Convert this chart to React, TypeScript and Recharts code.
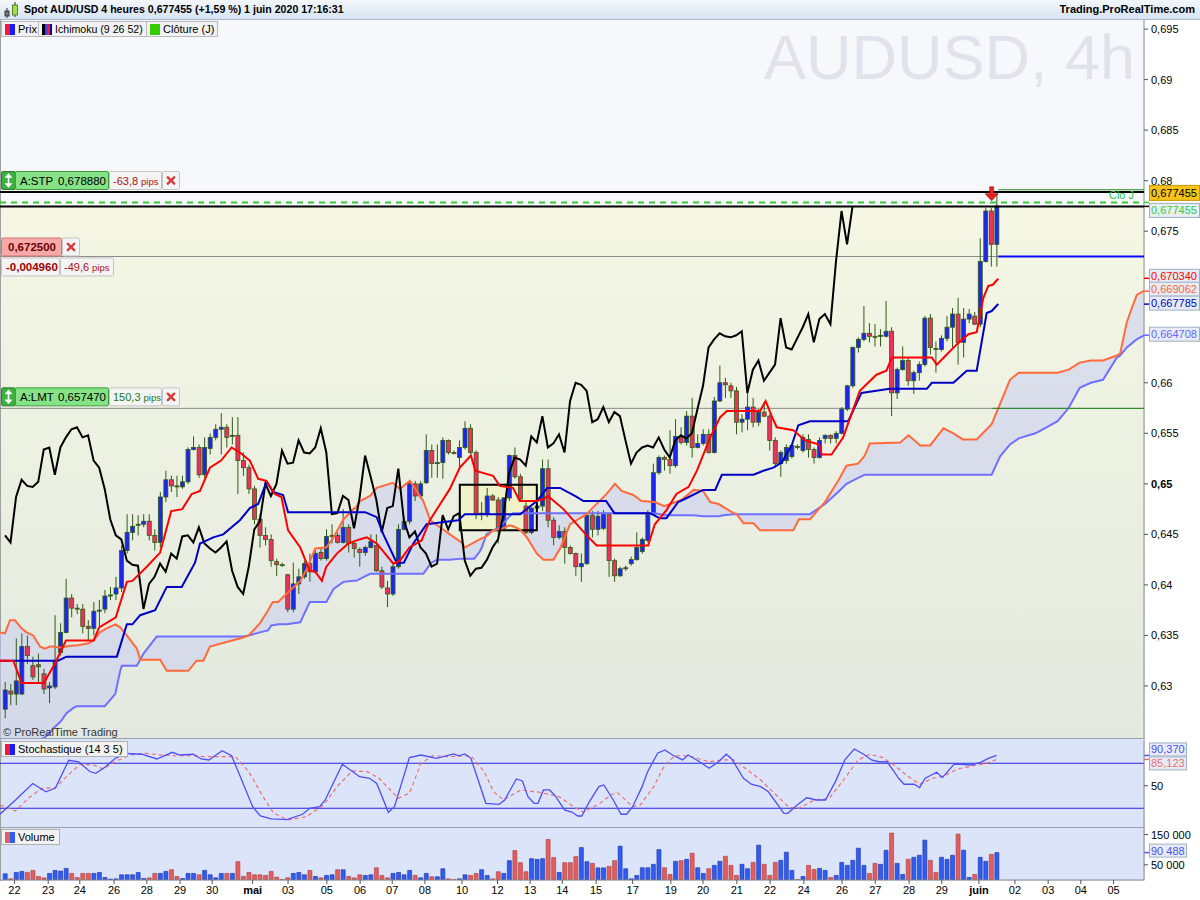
import React from 'react';
import {
  ComposedChart, Bar, Line, Area, XAxis, YAxis, ReferenceLine, ReferenceArea, ReferenceDot, Cell,
} from 'recharts';

const FONT = '"Liberation Sans", Arial, sans-serif';

// 4h candles, 22 avril -> 1 juin 2020 : [open, high, low, close]
const ohlc: [number, number, number, number][] = [
  [0.6277, 0.6304, 0.6268, 0.6296], [0.6295, 0.6302, 0.6281, 0.6292], [0.6292, 0.6347, 0.6281, 0.6305],
  [0.6292, 0.6352, 0.6291, 0.6339], [0.6339, 0.6350, 0.6322, 0.6330], [0.6320, 0.6329, 0.6306, 0.6309],
  [0.6321, 0.6332, 0.6302, 0.6319], [0.6312, 0.6317, 0.6292, 0.6297], [0.6298, 0.6304, 0.6283, 0.6300],
  [0.6299, 0.6370, 0.6297, 0.6324], [0.6333, 0.6362, 0.6330, 0.6353], [0.6353, 0.6406, 0.6352, 0.6387],
  [0.6387, 0.6391, 0.6368, 0.6377], [0.6377, 0.6381, 0.6371, 0.6376], [0.6376, 0.6381, 0.6352, 0.6359],
  [0.6359, 0.6365, 0.6345, 0.6357], [0.6357, 0.6383, 0.6350, 0.6374], [0.6374, 0.6385, 0.6358, 0.6375],
  [0.6376, 0.6395, 0.6372, 0.6389], [0.6389, 0.6398, 0.6385, 0.6390], [0.6391, 0.6408, 0.6385, 0.6397],
  [0.6397, 0.6439, 0.6393, 0.6434], [0.6434, 0.6470, 0.6431, 0.6452], [0.6452, 0.6470, 0.6444, 0.6458],
  [0.6459, 0.6469, 0.6449, 0.6460], [0.6460, 0.6470, 0.6457, 0.6463], [0.6463, 0.6470, 0.6444, 0.6449],
  [0.6449, 0.6455, 0.6434, 0.6442], [0.6442, 0.6492, 0.6437, 0.6487], [0.6487, 0.6513, 0.6482, 0.6504],
  [0.6504, 0.6508, 0.6492, 0.6498], [0.6498, 0.6508, 0.6487, 0.6497], [0.6497, 0.6508, 0.6495, 0.6502],
  [0.6502, 0.6536, 0.6500, 0.6534], [0.6534, 0.6547, 0.6533, 0.6536], [0.6536, 0.6539, 0.6506, 0.6509],
  [0.6509, 0.6546, 0.6506, 0.6536], [0.6535, 0.6550, 0.6529, 0.6546], [0.6546, 0.6559, 0.6543, 0.6554],
  [0.6554, 0.6570, 0.6529, 0.6556], [0.6556, 0.6559, 0.6536, 0.6546], [0.6547, 0.6566, 0.6539, 0.6548],
  [0.6548, 0.6566, 0.6490, 0.6523], [0.6523, 0.6531, 0.6508, 0.6516], [0.6516, 0.6519, 0.6490, 0.6495],
  [0.6495, 0.6498, 0.6460, 0.6465], [0.6465, 0.6470, 0.6437, 0.6449], [0.6449, 0.6457, 0.6439, 0.6445],
  [0.6445, 0.6450, 0.6418, 0.6424], [0.6423, 0.6426, 0.6409, 0.6420], [0.6420, 0.6422, 0.6418, 0.6419],
  [0.6410, 0.6411, 0.6373, 0.6376], [0.6376, 0.6422, 0.6373, 0.6401], [0.6401, 0.6416, 0.6391, 0.6408],
  [0.6408, 0.6424, 0.6406, 0.6421], [0.6421, 0.6431, 0.6403, 0.6413], [0.6413, 0.6434, 0.6411, 0.6431],
  [0.6432, 0.6437, 0.6424, 0.6426], [0.6426, 0.6455, 0.6424, 0.6448], [0.6448, 0.6460, 0.6441, 0.6449],
  [0.6449, 0.6452, 0.6441, 0.6442], [0.6442, 0.6475, 0.6441, 0.6457], [0.6457, 0.6460, 0.6432, 0.6441],
  [0.6441, 0.6442, 0.6427, 0.6436], [0.6435, 0.6437, 0.6418, 0.6432], [0.6432, 0.6439, 0.6429, 0.6437],
  [0.6437, 0.6450, 0.6436, 0.6443], [0.6439, 0.6450, 0.6413, 0.6414], [0.6414, 0.6418, 0.6396, 0.6398],
  [0.6397, 0.6404, 0.6378, 0.6391], [0.6391, 0.6421, 0.6389, 0.6418], [0.6418, 0.6460, 0.6416, 0.6455],
  [0.6455, 0.6467, 0.6454, 0.6463], [0.6463, 0.6503, 0.6460, 0.6500], [0.6500, 0.6503, 0.6483, 0.6488],
  [0.6488, 0.6503, 0.6485, 0.6500], [0.6501, 0.6549, 0.6500, 0.6533], [0.6533, 0.6539, 0.6506, 0.6520],
  [0.6520, 0.6539, 0.6506, 0.6521], [0.6521, 0.6546, 0.6505, 0.6543], [0.6543, 0.6544, 0.6529, 0.6531],
  [0.6531, 0.6533, 0.6529, 0.6530], [0.6526, 0.6543, 0.6516, 0.6536], [0.6536, 0.6562, 0.6534, 0.6555],
  [0.6555, 0.6559, 0.6529, 0.6531], [0.6531, 0.6533, 0.6465, 0.6470], [0.6470, 0.6482, 0.6464, 0.6471],
  [0.6470, 0.6496, 0.6467, 0.6488], [0.6488, 0.6490, 0.6483, 0.6484], [0.6484, 0.6487, 0.6441, 0.6456],
  [0.6456, 0.6487, 0.6455, 0.6486], [0.6486, 0.6529, 0.6483, 0.6528], [0.6528, 0.6536, 0.6505, 0.6507],
  [0.6507, 0.6510, 0.6483, 0.6485], [0.6478, 0.6483, 0.6450, 0.6452], [0.6452, 0.6477, 0.6450, 0.6476],
  [0.6476, 0.6480, 0.6473, 0.6478], [0.6478, 0.6524, 0.6473, 0.6515], [0.6515, 0.6524, 0.6457, 0.6464],
  [0.6464, 0.6467, 0.6439, 0.6447], [0.6447, 0.6459, 0.6445, 0.6453], [0.6453, 0.6457, 0.6421, 0.6437],
  [0.6437, 0.6439, 0.6430, 0.6431], [0.6431, 0.6432, 0.6409, 0.6418], [0.6418, 0.6431, 0.6403, 0.6421],
  [0.6421, 0.6470, 0.6420, 0.6469], [0.6469, 0.6473, 0.6447, 0.6455], [0.6455, 0.6473, 0.6449, 0.6468],
  [0.6456, 0.6474, 0.6454, 0.6471], [0.6470, 0.6472, 0.6408, 0.6424], [0.6424, 0.6426, 0.6403, 0.6409],
  [0.6409, 0.6418, 0.6408, 0.6416], [0.6416, 0.6419, 0.6414, 0.6417], [0.6421, 0.6428, 0.6419, 0.6425],
  [0.6425, 0.6452, 0.6424, 0.6437], [0.6433, 0.6447, 0.6431, 0.6445], [0.6444, 0.6474, 0.6442, 0.6470],
  [0.6470, 0.6520, 0.6469, 0.6511], [0.6511, 0.6528, 0.6509, 0.6526], [0.6526, 0.6528, 0.6513, 0.6524],
  [0.6524, 0.6553, 0.6510, 0.6518], [0.6518, 0.6564, 0.6516, 0.6547], [0.6546, 0.6556, 0.6539, 0.6541],
  [0.6541, 0.6572, 0.6538, 0.6567], [0.6567, 0.6585, 0.6526, 0.6536], [0.6536, 0.6549, 0.6535, 0.6540],
  [0.6540, 0.6554, 0.6538, 0.6549], [0.6549, 0.6554, 0.6530, 0.6531], [0.6531, 0.6586, 0.6530, 0.6582],
  [0.6582, 0.6617, 0.6581, 0.6600], [0.6600, 0.6605, 0.6585, 0.6598], [0.6597, 0.6600, 0.6585, 0.6592],
  [0.6592, 0.6596, 0.6549, 0.6561], [0.6561, 0.6569, 0.6551, 0.6564], [0.6564, 0.6590, 0.6553, 0.6576],
  [0.6576, 0.6585, 0.6556, 0.6561], [0.6561, 0.6574, 0.6557, 0.6571], [0.6571, 0.6581, 0.6566, 0.6567],
  [0.6567, 0.6569, 0.6533, 0.6543], [0.6543, 0.6546, 0.6516, 0.6520], [0.6520, 0.6533, 0.6507, 0.6531],
  [0.6523, 0.6539, 0.6520, 0.6536], [0.6527, 0.6539, 0.6525, 0.6538], [0.6537, 0.6539, 0.6534, 0.6536],
  [0.6533, 0.6549, 0.6531, 0.6546], [0.6544, 0.6549, 0.6526, 0.6534], [0.6534, 0.6536, 0.6520, 0.6526],
  [0.6526, 0.6546, 0.6525, 0.6543], [0.6545, 0.6549, 0.6540, 0.6548], [0.6548, 0.6549, 0.6540, 0.6545],
  [0.6545, 0.6552, 0.6540, 0.6550], [0.6550, 0.6576, 0.6549, 0.6574], [0.6574, 0.6598, 0.6572, 0.6597],
  [0.6597, 0.6636, 0.6595, 0.6635], [0.6635, 0.6645, 0.6630, 0.6643], [0.6643, 0.6676, 0.6641, 0.6649],
  [0.6649, 0.6659, 0.6640, 0.6646], [0.6646, 0.6658, 0.6636, 0.6645], [0.6646, 0.6653, 0.6636, 0.6647],
  [0.6646, 0.6681, 0.6645, 0.6651], [0.6651, 0.6655, 0.6567, 0.6590], [0.6590, 0.6615, 0.6584, 0.6613],
  [0.6613, 0.6636, 0.6612, 0.6622], [0.6622, 0.6625, 0.6597, 0.6602], [0.6602, 0.6612, 0.6589, 0.6610],
  [0.6610, 0.6621, 0.6602, 0.6618], [0.6618, 0.6666, 0.6616, 0.6664], [0.6664, 0.6668, 0.6628, 0.6635],
  [0.6634, 0.6641, 0.6610, 0.6633], [0.6633, 0.6647, 0.6631, 0.6644], [0.6644, 0.6666, 0.6641, 0.6655],
  [0.6655, 0.6674, 0.6635, 0.6668], [0.6668, 0.6684, 0.6618, 0.6640], [0.6640, 0.6674, 0.6625, 0.6663],
  [0.6663, 0.6673, 0.6659, 0.6668], [0.6666, 0.6670, 0.6657, 0.6658], [0.6658, 0.6743, 0.6655, 0.6720],
  [0.6720, 0.6773, 0.6719, 0.6770], [0.6770, 0.6773, 0.6715, 0.6737], [0.6737, 0.6789, 0.6715, 0.6775],
];

// volume per candle, thousands
const volumeK = [
  20.6, 3.9, 25, 28.3, 25, 31.7, 11.7, 7.2, 21.7, 31.7,
  29.4, 38.3, 21.7, 8.3, 21.7, 21.7, 21.7, 25, 8.3, 2.8,
  3.9, 17.2, 17.2, 17.2, 25, 5, 7.2, 21.7, 21.7, 28.3,
  33.9, 11.7, 5, 21.7, 21.7, 17.2, 31.7, 17.2, 7.2, 21.7,
  21.7, 21.7, 60.5, 11.7, 25, 17.2, 17.2, 15, 28.3, 9.4,
  1.7, 7.2, 21.7, 25, 17.2, 31.7, 11.7, 7.2, 15, 17.2,
  33.9, 33.9, 11.7, 7.2, 17.2, 15, 17.2, 40.5, 15, 7.2,
  21.7, 25, 17.2, 31.7, 15, 7.2, 21.7, 10.6, 10.6, 37.2,
  3.9, 1.7, 3.9, 17.2, 15, 21.7, 33.9, 15, 3.9, 27.2,
  21.7, 63.9, 97.2, 57.2, 27.2, 70.5, 68.3, 70.5, 133.9, 73.9,
  25, 57.2, 57.2, 77.2, 107.2, 60.5, 55, 40, 40, 45,
  63.9, 111.7, 37.2, 3.9, 15, 40.5, 40.5, 51.7, 100.5, 40.5,
  18.3, 61.7, 63.9, 68.3, 88.3, 40.5, 21.7, 37.2, 48.3, 61.7,
  78.3, 48.3, 15, 51.7, 37.2, 58.3, 115, 51.7, 15, 58.3,
  65, 91.7, 31.7, 1.7, 11.7, 48.3, 35, 38.3, 31.7, 8.3,
  15, 58.3, 48.3, 65, 105, 48.3, 21.7, 55, 51.7, 98.3,
  155, 55, 18.3, 68.3, 75, 81.7, 131.7, 65, 25, 75,
  68.3, 81.7, 151.7, 98.3, 8.3, 18.3, 75, 61.7, 85, 90.488,
];

// Ichimoku lines: [bar, price]
const tenkan: [number, number][] = [
  [-0.9, 0.6325], [1.5, 0.6325], [3, 0.6303], [7, 0.6303], [9, 0.6322], [11, 0.6345], [16, 0.6345],
  [17, 0.6358], [20, 0.6368], [22, 0.6403], [23, 0.6404], [25.6, 0.6418], [28, 0.6432], [30, 0.6473],
  [32, 0.6475], [33.7, 0.6490], [35.2, 0.6493], [37, 0.6516], [39, 0.6523], [40.9, 0.6536], [42.4, 0.6531],
  [44.2, 0.6523], [45.7, 0.6505], [47.2, 0.6503], [48.7, 0.6490], [49.9, 0.6487], [51.1, 0.6454],
  [53.3, 0.6437], [55, 0.6414], [56, 0.6413], [57.2, 0.6404], [58, 0.6418], [59.9, 0.6431], [62, 0.6441],
  [64, 0.6445], [65.3, 0.6447], [67.1, 0.6441], [68.9, 0.6429], [70.1, 0.6421], [71.3, 0.6424],
  [73, 0.6437], [75.2, 0.6444], [76.7, 0.6464], [80.3, 0.6495], [82.1, 0.6516], [84.1, 0.6528],
  [84.9, 0.6513], [88.1, 0.6508], [89.3, 0.6498], [91.7, 0.6496], [92.9, 0.6483], [96, 0.6483],
  [97.2, 0.6485], [98, 0.6488], [100.8, 0.6475], [105, 0.6449], [106.8, 0.6439], [116.1, 0.6439],
  [117.3, 0.6460], [119.4, 0.6474], [121.2, 0.6490], [123.4, 0.6497], [124.9, 0.6513], [127.3, 0.6546],
  [129.1, 0.6566], [130.3, 0.6572], [136.3, 0.6572], [137.3, 0.6582], [138.4, 0.6567], [139.3, 0.6556],
  [142.3, 0.6553], [144.4, 0.6543], [147, 0.6539], [147.4, 0.6529], [149.2, 0.6529], [151.3, 0.6546],
  [154.3, 0.6592], [157.3, 0.6608], [159.1, 0.6612], [160.1, 0.6625], [167.3, 0.6625], [168.2, 0.6618],
  [170, 0.6628], [171.8, 0.6638], [173.9, 0.6648], [175.4, 0.6650], [176.6, 0.6684], [177.5, 0.6696],
  [178.3, 0.6697], [179.3, 0.6703],
];

const kijun: [number, number][] = [
  [-0.9, 0.6325], [9.6, 0.6325], [11.1, 0.6329], [20.2, 0.6329], [22, 0.6361], [23, 0.6361],
  [24.4, 0.6370], [27.1, 0.6375], [29.2, 0.6398], [31.9, 0.6398], [34.3, 0.6422], [35.2, 0.6441],
  [37.6, 0.6447], [39.4, 0.6450], [42.4, 0.6464], [44.2, 0.6476], [45.7, 0.6480], [47.2, 0.6502],
  [48.4, 0.6492], [50.2, 0.6489], [51.1, 0.6472], [65, 0.6472], [67.1, 0.6467], [68.3, 0.6450],
  [70.7, 0.6422], [72, 0.6422], [73.7, 0.6441], [76.1, 0.6460], [81.8, 0.6464], [83, 0.6470],
  [93, 0.6470], [96, 0.6483], [97.9, 0.6496], [100.2, 0.6496], [103.2, 0.6487], [104.4, 0.6483],
  [108.5, 0.6483], [110, 0.6471], [116.4, 0.6471], [118.2, 0.6466], [119.4, 0.6466], [121.5, 0.6482],
  [122.7, 0.6485], [126, 0.6494], [128.2, 0.6494], [129.4, 0.6509], [135.1, 0.6509], [136.9, 0.6513],
  [138.7, 0.6516], [140.2, 0.6521], [142, 0.6538], [143.2, 0.6558], [145.3, 0.6562], [152.2, 0.6562],
  [154.6, 0.6590], [159.7, 0.6594], [166.4, 0.6594], [167.3, 0.6600], [171.2, 0.6600], [173.6, 0.6612],
  [175.4, 0.6612], [177.2, 0.6669], [178.1, 0.6671], [179.3, 0.6678],
];

// kumo, shifted 26 bars ahead: [bar, senkou A, senkou B]
const kumo: [number, number, number][] = [
  [-0.9, 0.6353, 0.6235], [0, 0.6352, 0.6236], [0.9, 0.6365, 0.6237], [1.8, 0.6365, 0.6238],
  [3, 0.6357, 0.6240], [3.9, 0.6353, 0.6242], [5.1, 0.6350, 0.6245], [6.3, 0.6339, 0.6247],
  [7.2, 0.6337, 0.6249], [8.1, 0.6339, 0.6254], [8.7, 0.6339, 0.6258], [9.9, 0.6338, 0.6264],
  [10.2, 0.6338, 0.6266], [11.1, 0.6339, 0.6273], [12.3, 0.6340, 0.6278], [12.9, 0.6340, 0.6280],
  [15, 0.6342, 0.6280], [16, 0.6345, 0.6280], [17.1, 0.6353, 0.6280], [18, 0.6356, 0.6280],
  [19.9, 0.6361, 0.6292], [20.8, 0.6358, 0.6315], [21.1, 0.6356, 0.6320], [21.7, 0.6352, 0.6320],
  [23.8, 0.6337, 0.6320], [24.4, 0.6326, 0.6326], [25, 0.6326, 0.6332], [27.4, 0.6326, 0.6349],
  [28, 0.6326, 0.6349], [29.2, 0.6315, 0.6349], [33.1, 0.6315, 0.6349], [34.6, 0.6325, 0.6349],
  [35.8, 0.6325, 0.6349], [37, 0.6339, 0.6349], [41, 0.6345, 0.6349], [43, 0.6348, 0.6349],
  [44, 0.6350, 0.6350], [46, 0.6362, 0.6353], [47.5, 0.6375, 0.6355], [48.1, 0.6381, 0.6360],
  [48.4, 0.6383, 0.6360], [49.3, 0.6383, 0.6361], [50.8, 0.6391, 0.6361], [53.3, 0.6404, 0.6363],
  [54.5, 0.6416, 0.6377], [55, 0.6423, 0.6383], [56, 0.6436, 0.6383], [58, 0.6437, 0.6383],
  [59.3, 0.6447, 0.6396], [61.1, 0.6465, 0.6403], [62.9, 0.6475, 0.6404], [63.4, 0.6477, 0.6404],
  [64.1, 0.6483, 0.6406], [65.9, 0.6488, 0.6411], [67.1, 0.6496, 0.6411], [70, 0.6501, 0.6411],
  [71.3, 0.6495, 0.6411], [73.1, 0.6503, 0.6411], [74.3, 0.6493, 0.6411], [75.5, 0.6483, 0.6411],
  [76.7, 0.6465, 0.6420], [77, 0.6463, 0.6422], [78, 0.6459, 0.6425], [80.3, 0.6450, 0.6425],
  [82.4, 0.6442, 0.6426], [83, 0.6437, 0.6426], [84.7, 0.6442, 0.6426], [85.7, 0.6445, 0.6433],
  [86, 0.6446, 0.6436], [86.9, 0.6448, 0.6450], [88.1, 0.6454, 0.6454], [89.3, 0.6455, 0.6457],
  [91.1, 0.6459, 0.6468], [91.7, 0.6458, 0.6471], [92.9, 0.6455, 0.6471], [94.2, 0.6447, 0.6471],
  [96, 0.6431, 0.6471], [97.2, 0.6425, 0.6471], [99, 0.6425, 0.6471], [100.2, 0.6436, 0.6471],
  [102, 0.6460, 0.6471], [105, 0.6470, 0.6471], [106.2, 0.6477, 0.6471], [107.7, 0.6485, 0.6471],
  [108.6, 0.6490, 0.6471], [110.1, 0.6500, 0.6471], [111.3, 0.6493, 0.6471], [113.4, 0.6489, 0.6471],
  [114.9, 0.6483, 0.6471], [117.3, 0.6482, 0.6471], [119, 0.6478, 0.6469], [122.1, 0.6484, 0.6469],
  [124.3, 0.6494, 0.6469], [126, 0.6493, 0.6468], [127.3, 0.6482, 0.6468], [128.8, 0.6480, 0.6468],
  [129.7, 0.6477, 0.6469], [131.5, 0.6471, 0.6470], [132.1, 0.6470, 0.6470], [133.3, 0.6461, 0.6470],
  [135.1, 0.6461, 0.6470], [136.3, 0.6454, 0.6470], [142.3, 0.6454, 0.6470], [143.3, 0.6465, 0.6470],
  [145.3, 0.6465, 0.6470], [148, 0.6482, 0.6480], [150.4, 0.6503, 0.6492], [151.9, 0.6518, 0.6500],
  [154, 0.6520, 0.6506], [155.2, 0.6528, 0.6509], [156.1, 0.6540, 0.6509], [161.6, 0.6541, 0.6509],
  [163.1, 0.6548, 0.6509], [165.2, 0.6538, 0.6509], [167, 0.6538, 0.6509], [169.4, 0.6555, 0.6509],
  [171.2, 0.6550, 0.6509], [172.9, 0.6544, 0.6509], [175.4, 0.6544, 0.6509], [178.1, 0.6559, 0.6509],
  [179.6, 0.6579, 0.6527], [181.4, 0.6603, 0.6539], [183, 0.6610, 0.6545], [186, 0.6610, 0.6550],
  [188, 0.6610, 0.6556], [190, 0.6610, 0.6562], [192, 0.6613, 0.6575], [194, 0.6620, 0.6595],
  [196, 0.6622, 0.6600], [198.2, 0.6622, 0.6603], [200.7, 0.6627, 0.6625], [201.3, 0.6629, 0.6627],
  [202.5, 0.6660, 0.6635], [203.4, 0.6674, 0.6639], [204.3, 0.6687, 0.6643], [205.6, 0.6691, 0.6647],
];

// stochastique (14 3 5): [bar, value]
const stochK: [number, number][] = [
  [-0.9, 12], [1.9, 31], [5, 53], [7.4, 42], [9.1, 47], [11.5, 84], [13.3, 82], [15.3, 69], [16.4, 66.6],
  [18.1, 75], [19.8, 86], [21.9, 93], [24.7, 92], [27.4, 85.7], [30.2, 94.6], [31.6, 91], [34, 92],
  [35.4, 85.7], [36.8, 84.4], [39.2, 96.8], [40.9, 90], [42.6, 60], [44.7, 22], [46.1, 9.7], [48.1, 5.7],
  [50.9, 4.8], [53.7, 12], [55, 20], [56.8, 22], [57.8, 31], [60.9, 78.6], [64, 62], [65.8, 60], [67.1, 53],
  [69.2, 14.6], [70.3, 22], [73, 87.5], [75.1, 91], [77.9, 86.6], [81, 92.4], [81.9, 90], [83, 92.4],
  [84.1, 86.6], [86.8, 26.6], [89.2, 25.3], [90.2, 31], [92.3, 59], [93.4, 56.4], [94.4, 35.5],
  [95.5, 26.6], [96.2, 26.6], [97.2, 44.4], [98.3, 44.4], [99.3, 36.8], [101, 17.7], [102.4, 14.6],
  [103.4, 9.7], [104.1, 9.7], [105.5, 28.8], [107.2, 48.8], [108.1, 51], [109.8, 31], [111.2, 12],
  [112.2, 12], [113.3, 22], [115, 48.8], [116, 68.8], [117.8, 93.3], [119.1, 97.7], [120.5, 91],
  [122.3, 84.4], [123.3, 91], [125.4, 82], [127.1, 73.3], [128.8, 82], [130.2, 92], [131.2, 85.7],
  [133.3, 60], [134.7, 52], [136.4, 48.8], [137.8, 42], [140.6, 13.3], [141.3, 13.3], [143, 24.4],
  [144.7, 34], [145.4, 33], [146.4, 31], [148.1, 31], [149.9, 55.5], [151.6, 84.4], [153.3, 99], [155, 92],
  [156.4, 84.4], [157.7, 82], [159.2, 82], [160.3, 71], [161.3, 60], [162.3, 52], [164.1, 52],
  [165.1, 47.5], [166.1, 60], [168.2, 68], [169.2, 60.8], [171.3, 78.6], [172.6, 78.6], [174.4, 77.7],
  [176.1, 81.3], [177.5, 86.6], [179, 90.37],
];

const stochD: [number, number][] = [
  [-0.9, 24.4], [1.9, 16.4], [4.3, 34], [6.7, 46.6], [9.1, 47.5], [11.5, 65], [13.6, 78.6], [16, 77.7],
  [17.7, 72.4], [19.8, 82], [22.6, 91], [25.3, 93.3], [28.1, 91], [30.9, 90], [33.6, 90], [36.4, 88.8],
  [38.8, 88.8], [41.6, 88.8], [44, 68.8], [46.4, 37.7], [48.5, 13.3], [51.2, 4.4], [54.4, 8.8],
  [57.5, 24.4], [60.2, 51], [62.7, 69.7], [65.4, 68.8], [67.5, 60], [71, 33.3], [73, 40], [75.1, 80],
  [77.2, 90], [79.9, 88.8], [84.1, 90], [86.5, 68.8], [88.2, 42], [90, 31], [93.1, 44.4], [96.5, 41.3],
  [100, 35.5], [102.7, 22], [104.4, 14.6], [107.4, 26.6], [109.4, 37.7], [110.5, 41.3], [113.3, 22],
  [114.7, 24.4], [117.1, 48.8], [119.1, 77.7], [120.9, 90], [123.3, 90], [125.4, 85.7], [127.1, 82],
  [129.5, 84.4], [131.6, 84.4], [133.6, 73.3], [136.4, 57.7], [139.2, 37.7], [141.6, 20.8], [143.3, 20],
  [146.1, 31], [148.8, 33.3], [151.6, 60], [154, 84.4], [156.1, 92], [158.5, 87.5], [160.6, 76.8],
  [162.7, 64.4], [165.1, 52], [167.5, 60], [169.6, 63.5], [172, 72.4], [174.8, 76.8], [177.2, 80],
  [179, 85.123],
];

const dayTicks = [
  1.7, 7.8, 13.5, 19.7, 25.6, 31.6, 37.4, 44.7, 51.1, 58.1, 64.1, 69.9, 75.8, 82.5, 88.9, 94.8, 100.6,
  106.7, 113.3, 120.2, 126, 132.1, 138.1, 144.2, 151.1, 157.1, 163.2, 169.1, 175.8, 182.3, 188.3, 194.2, 200.1,
];
const dayLabels = [
  '22', '23', '24', '26', '28', '29', '30', 'mai', '03', '05', '06', '07', '08', '10', '12', '13', '14',
  '15', '17', '19', '20', '21', '22', '24', '26', '27', '28', '29', 'juin', '02', '03', '04', '05',
];
// 0,665 and 0,67 sit under the indicator value tags, so they are not shown
const priceTicks = [0.63, 0.635, 0.64, 0.645, 0.65, 0.655, 0.66, 0.675, 0.68, 0.685, 0.69, 0.695];

const X_DOMAIN: [number, number] = [-0.9, 205.6];
const PRICE_DOMAIN: [number, number] = [0.62485, 0.6959];

// ---- tables ----
const candleRows = ohlc.map(([o, h, l, c], i) => ({ x: i, o, h, l, c, range: [l, h] }));
const volumeRows = ohlc.map(([o, , , c], i) => ({ x: i, v: volumeK[i], up: c >= o }));
const cloudRows = kumo.map(([x, a, b]) => ({ x, cloud: [a, b] }));

function mergeSeries(series: Record<string, [number, number][]>) {
  const rows = new Map<number, any>();
  for (const [key, pts] of Object.entries(series)) {
    for (const [x, v] of pts) {
      const k = Math.round(x * 100) / 100;
      const row = rows.get(k) ?? { x: k };
      row[key] = v;
      rows.set(k, row);
    }
  }
  return [...rows.values()].sort((a, b) => a.x - b.x);
}

const lineRows = mergeSeries({
  tenkan,
  kijun,
  chikou: ohlc.slice(26).map(([, , , c], i) => [i, c] as [number, number]),
  spanA: kumo.map(([x, a]) => [x, a] as [number, number]),
  spanB: kumo.map(([x, , b]) => [x, b] as [number, number]),
});
const stochRows = mergeSeries({ k: stochK, d: stochD });

// ---- drawing helpers ----
function Candle(props: any) {
  const { x, y, width, height, payload } = props;
  if (!payload || y == null || height == null) return null;
  const { o, h, l, c } = payload;
  const top = Math.min(y, y + height);
  const span = Math.abs(height);
  const cx = x + width / 2;
  const py = (v: number) => top + ((h - v) / (h - l)) * span;
  const b1 = py(Math.max(o, c));
  const b2 = py(Math.min(o, c));
  const up = c >= o;
  return (
    <g>
      <line x1={cx} x2={cx} y1={top} y2={top + span} stroke="#2f5c14" strokeWidth={1} />
      <rect x={cx - 2} y={b1} width={4} height={Math.max(b2 - b1, 1)}
        fill={up ? '#1d25f2' : '#f0305c'} stroke="#2f5c14" strokeWidth={0.8} />
    </g>
  );
}

const priceLabel = (v: number) => String(Number(v.toFixed(3))).replace('.', ',');

function PriceTick(props: any) {
  const { x, y, payload } = props;
  const v = payload.value;
  return (
    <text x={x} y={y} dy={4} fontSize={11} fontFamily={FONT} fill="#000"
      fontWeight={Math.abs(v - 0.65) < 1e-9 ? 700 : 400}>{priceLabel(v)}</text>
  );
}

function PlainTick(props: any) {
  const { x, y, payload, fmt } = props;
  return <text x={x} y={y} dy={4} fontSize={11} fontFamily={FONT} fill="#000">{fmt(payload.value)}</text>;
}

function DayTick(props: any) {
  const { x, y, payload } = props;
  const label = dayLabels[dayTicks.indexOf(payload.value)] ?? '';
  const bold = label === 'mai' || label === 'juin';
  return (
    <text x={x} y={y} dy={8} textAnchor="middle" fontSize={11} fontFamily={FONT}
      fontWeight={bold ? 700 : 400} fill="#000">{label}</text>
  );
}

type TagOpts = { text: string; color: string; bg: string; border: string; dy?: number; h?: number; w?: number };
const rightTag = ({ text, color, bg, border, dy = 0, h = 14, w = 50 }: TagOpts) => (props: any) => {
  const vb = props.viewBox ?? {};
  const x0 = (vb.x ?? 0) + (vb.width ?? 0);
  const y0 = vb.y ?? 0;
  const cy = y0 + dy;
  return (
    <g>
      <line x1={x0} x2={x0 + 5} y1={y0} y2={y0} stroke={color} strokeWidth={1.5} />
      <rect x={x0 + 5.5} y={cy - h / 2} width={w} height={h} fill={bg} stroke={border} />
      <text x={x0 + 7} y={cy + 4} fontSize={11} fontFamily={FONT} fill={color}>{text}</text>
    </g>
  );
};

function Box({ x, y, w, h, bg, border }: any) {
  return <rect x={x + 0.5} y={y + 0.5} width={w - 1} height={h - 1} rx={1.5} fill={bg} stroke={border} />;
}
function Cross({ cx, cy }: any) {
  return (
    <g stroke="#d83a3a" strokeWidth={2.4} strokeLinecap="round">
      <line x1={cx - 3.2} y1={cy - 3.2} x2={cx + 3.2} y2={cy + 3.2} />
      <line x1={cx + 3.2} y1={cy - 3.2} x2={cx - 3.2} y2={cy + 3.2} />
    </g>
  );
}
function Arrows({ cx, cy }: any) {
  return (
    <g fill="#fff" stroke="#fff">
      <line x1={cx} x2={cx} y1={cy - 5} y2={cy + 5} strokeWidth={1.6} />
      <path d={`M${cx - 3.5} ${cy - 3} L${cx} ${cy - 7} L${cx + 3.5} ${cy - 3} Z`} strokeWidth={0.5} />
      <path d={`M${cx - 3.5} ${cy + 3} L${cx} ${cy + 7} L${cx + 3.5} ${cy + 3} Z`} strokeWidth={0.5} />
    </g>
  );
}

const orderTag = (name: string, price: string, pips: string, pipsColor: string) => (props: any) => {
  const vb = props.viewBox ?? {};
  const t = (vb.y ?? 0) - 21;
  return (
    <g fontFamily={FONT}>
      <Box x={1} y={t} w={15} h={19} bg="#3fb03f" border="#2b7d2b" />
      <Arrows cx={8.5} cy={t + 9.5} />
      <Box x={15} y={t} w={94} h={19} bg="#86e286" border="#3d9b3d" />
      <text x={20} y={t + 14} fontSize={11.5} fill="#000">{name}</text>
      <text x={58} y={t + 14} fontSize={11.5} fill="#000">{price}</text>
      <Box x={109} y={t} w={53} h={19} bg="#f4f4f4" border="#c4c4c4" />
      <text x={113} y={t + 14} fontSize={11} fill={pipsColor}>{pips}<tspan fontSize={9.5} dx={3}>pips</tspan></text>
      <Box x={162} y={t} w={18} h={19} bg="#f4f4f4" border="#c4c4c4" />
      <Cross cx={171} cy={t + 9.5} />
    </g>
  );
};

const pendingTag = (props: any) => {
  const vb = props.viewBox ?? {};
  const y0 = vb.y ?? 0;
  const t = y0 - 19;
  return (
    <g fontFamily={FONT}>
      <Box x={1} y={t} w={61} h={19} bg="#f6a9a9" border="#cf7777" />
      <text x={8} y={t + 14} fontSize={11.5} fontWeight={700} fill="#6e0000">0,672500</text>
      <Box x={62} y={t} w={18} h={19} bg="#f4f4f4" border="#c4c4c4" />
      <Cross cx={71} cy={t + 9.5} />
      <Box x={1} y={y0 + 1} w={59} h={19} bg="#f4f4f4" border="#c4c4c4" />
      <text x={6} y={y0 + 15} fontSize={11.5} fontWeight={700} fill="#a00000">-0,004960</text>
      <Box x={60} y={y0 + 1} w={54} h={19} bg="#f4f4f4" border="#c4c4c4" />
      <text x={64} y={y0 + 15} fontSize={11} fill="#b01010">-49,6<tspan fontSize={9.5} dx={3}>pips</tspan></text>
    </g>
  );
};

const cloJ = (props: any) => {
  const vb = props.viewBox ?? {};
  const x0 = (vb.x ?? 0) + (vb.width ?? 0);
  const y0 = vb.y ?? 0;
  return (
    <g>
      <text x={x0 - 10} y={y0 - 3} textAnchor="end" fontSize={11} fontFamily={FONT} fill="#38c238">Clo J</text>
      <line x1={x0} x2={x0 + 5} y1={y0} y2={y0} stroke="#33cc33" strokeWidth={1.5} />
      <rect x={x0 + 5.5} y={y0 + 1} width={50} height={14} fill="#e9eef5" stroke="#9fb0c2" />
      <text x={x0 + 7} y={y0 + 12} fontSize={11} fontFamily={FONT} fill="#33cc33">0,677455</text>
    </g>
  );
};

const sellArrow = (p: any) => (
  <path d={`M${p.cx - 2} ${p.cy - 8} h4 v7 h4.5 l-6.5 7 l-6.5 -7 h4.5 z`} fill="#e8231e" stroke="#a01010" strokeWidth={0.6} />
);

const layer = (top: number): React.CSSProperties => ({ position: 'absolute', left: 0, top });
const noMargin = { top: 0, right: 0, bottom: 0, left: 0 };
const hiddenRight = { top: 0, right: 56, bottom: 0, left: 0 };

function LegendBox({ left, width, children }: any) {
  return (
    <div style={{
      position: 'absolute', left, top: 21, width, height: 16, boxSizing: 'border-box', whiteSpace: 'nowrap',
      background: '#f2f2f2', border: '1px solid #b9b9b9', display: 'flex', alignItems: 'center',
      gap: 3, paddingLeft: 3, fontSize: 11, color: '#000', overflow: 'hidden',
    }}>{children}</div>
  );
}

const priceIcon = (
  <span style={{ display: 'inline-flex', width: 10, height: 11, flex: 'none' }}>
    <span style={{ flex: 1, background: '#f2183c' }} /><span style={{ flex: 1, background: '#1a1af5' }} />
  </span>
);

export default function App() {
  const MAIN_H = 718;
  return (
    <div style={{ position: 'absolute', left: 0, top: 0, width: 1200, height: 900, background: '#fff', overflow: 'hidden', fontFamily: FONT }}>
      {/* panel backgrounds */}
      <div style={{ position: 'absolute', left: 0, top: 20, width: 1144, height: 187, background: '#f7f8fc', borderLeft: '1px solid #a0a0a0' }} />
      <div style={{ position: 'absolute', left: 0, top: 207, width: 1144, height: 531, background: 'linear-gradient(#f5f7e4, #e3e9df)', borderLeft: '1px solid #a0a0a0' }} />
      <div style={{ position: 'absolute', left: 700, top: 26, width: 435, textAlign: 'right', fontSize: 63, lineHeight: 1, color: '#e1e3ec' }}>AUDUSD, 4h</div>
      <div style={{ position: 'absolute', left: 0, top: 738, width: 1144, height: 90, background: '#dce4fa', borderTop: '1px solid #9aa3ad', borderLeft: '1px solid #a0a0a0' }} />
      <div style={{ position: 'absolute', left: 0, top: 827, width: 1144, height: 53, background: '#dce4fa', borderTop: '1px solid #9aa3ad', borderLeft: '1px solid #a0a0a0' }} />

      {/* kumo + price axis */}
      <div style={layer(20)}>
        <ComposedChart width={1200} height={MAIN_H} data={cloudRows} margin={noMargin}>
          <XAxis type="number" dataKey="x" domain={X_DOMAIN} allowDataOverflow hide />
          <YAxis orientation="right" width={56} domain={PRICE_DOMAIN} allowDataOverflow ticks={priceTicks}
            interval={0} tickSize={4} tickMargin={3} tick={(p: any) => <PriceTick {...p} />}
            axisLine={{ stroke: '#8c8c8c' }} tickLine={{ stroke: '#555' }} />
          <ReferenceLine y={0.6725} stroke="#8a8a8a" />
          <ReferenceLine y={0.65747} stroke="#8a8a8a" />
          <Area dataKey="cloud" stroke="none" fill="#c6caf4" fillOpacity={0.5} connectNulls isAnimationActive={false} />
        </ComposedChart>
      </div>

      {/* drawn rectangle */}
      <div style={layer(20)}>
        <ComposedChart width={1200} height={MAIN_H} data={candleRows} margin={hiddenRight}>
          <XAxis type="number" dataKey="x" domain={X_DOMAIN} allowDataOverflow hide />
          <YAxis domain={PRICE_DOMAIN} allowDataOverflow hide />
          <ReferenceArea x1={82.1} x2={96} y1={0.6454} y2={0.6499} fill="#f1f3c6" fillOpacity={0.9} stroke="none" />
        </ComposedChart>
      </div>

      {/* candles */}
      <div style={layer(20)}>
        <ComposedChart width={1200} height={MAIN_H} data={candleRows} margin={hiddenRight}>
          <XAxis type="number" dataKey="x" domain={X_DOMAIN} allowDataOverflow hide />
          <YAxis domain={PRICE_DOMAIN} allowDataOverflow hide />
          <Bar dataKey="range" barSize={4} isAnimationActive={false} shape={(p: any) => <Candle {...p} />} />
        </ComposedChart>
      </div>

      {/* ichimoku lines, levels, tags */}
      <div style={layer(20)}>
        <ComposedChart width={1200} height={MAIN_H} data={lineRows} margin={hiddenRight}>
          <XAxis type="number" dataKey="x" domain={X_DOMAIN} allowDataOverflow hide />
          <YAxis domain={PRICE_DOMAIN} allowDataOverflow hide />
          <ReferenceArea x1={82.1} x2={96} y1={0.6454} y2={0.6499} fill="none" stroke="#000" strokeWidth={2} />
          <Line dataKey="spanB" stroke="#6f70ff" strokeWidth={2} dot={false} activeDot={false} connectNulls isAnimationActive={false} />
          <Line dataKey="spanA" stroke="#ff6a3d" strokeWidth={2} dot={false} activeDot={false} connectNulls isAnimationActive={false} />
          <Line dataKey="chikou" stroke="#000" strokeWidth={2} dot={false} activeDot={false} connectNulls isAnimationActive={false} />
          <Line dataKey="kijun" stroke="#0000c4" strokeWidth={2} dot={false} activeDot={false} connectNulls isAnimationActive={false} />
          <Line dataKey="tenkan" stroke="#ff0000" strokeWidth={2} dot={false} activeDot={false} connectNulls isAnimationActive={false} />

          <ReferenceLine y={0.67888} stroke="#000" strokeWidth={2} label={orderTag('A:STP', '0,678880', '-63,8', '#b01010')} />
          <ReferenceLine y={0.677455} stroke="#000" strokeWidth={2}
            label={rightTag({ text: '0,677455', color: '#000', bg: '#f6c21c', border: '#c79a00', dy: -13.5, h: 15 })} />
          <ReferenceLine y={0.67785} stroke="#33cc33" strokeWidth={2} strokeDasharray="6 5" label={cloJ} />
          <ReferenceLine y={0.6725} stroke="none" label={pendingTag} />
          <ReferenceLine y={0.65747} stroke="none" label={orderTag('A:LMT', '0,657470', '150,3', '#187a18')} />
          <ReferenceLine segment={[{ x: 179.3, y: 0.6725 }, { x: 205.6, y: 0.6725 }]} stroke="#0a0aff" strokeWidth={2} />
          <ReferenceLine segment={[{ x: 179.3, y: 0.6791 }, { x: 205.6, y: 0.6791 }]} stroke="#1f8a1f" strokeWidth={1} />
          <ReferenceLine segment={[{ x: 178.2, y: 0.65747 }, { x: 205.6, y: 0.65747 }]} stroke="#1f8a1f" strokeWidth={1} />
          <ReferenceDot x={178.1} y={0.6786} r={0} shape={sellArrow} />

          <ReferenceLine y={0.67034} stroke="none" label={rightTag({ text: '0,670340', color: '#ff0000', bg: '#e6ecf5', border: '#9fb0c2', dy: -2 })} />
          <ReferenceLine y={0.669062} stroke="none" label={rightTag({ text: '0,669062', color: '#ff6633', bg: '#e6ecf5', border: '#9fb0c2', dy: -2 })} />
          <ReferenceLine y={0.667785} stroke="none" label={rightTag({ text: '0,667785', color: '#0000c4', bg: '#e6ecf5', border: '#9fb0c2', dy: -1 })} />
          <ReferenceLine y={0.664708} stroke="none" label={rightTag({ text: '0,664708', color: '#6666ff', bg: '#e6ecf5', border: '#9fb0c2', dy: -1 })} />
        </ComposedChart>
      </div>

      {/* stochastic */}
      <div style={layer(740)}>
        <ComposedChart width={1200} height={87} data={stochRows} margin={noMargin}>
          <XAxis type="number" dataKey="x" domain={X_DOMAIN} allowDataOverflow hide />
          <YAxis orientation="right" width={56} domain={[-5, 111]} allowDataOverflow ticks={[50]} interval={0}
            tickSize={4} tickMargin={3} tick={(p: any) => <PlainTick {...p} fmt={(v: number) => String(v)} />}
            axisLine={{ stroke: '#8c8c8c' }} tickLine={{ stroke: '#555' }} />
          <ReferenceLine y={80} stroke="#2626d8" />
          <ReferenceLine y={20} stroke="#2626d8" />
          <Line dataKey="d" stroke="#ef6f6f" strokeWidth={1.2} strokeDasharray="4 3" dot={false} activeDot={false} connectNulls isAnimationActive={false} />
          <Line dataKey="k" stroke="#4f4ff5" strokeWidth={1.3} dot={false} activeDot={false} connectNulls isAnimationActive={false} />
          <ReferenceLine y={90.37} stroke="none" label={rightTag({ text: '90,370', color: '#4f4ff5', bg: '#e6ecf5', border: '#9fb0c2', dy: -6, h: 13, w: 37 })} />
          <ReferenceLine y={85.123} stroke="none" label={rightTag({ text: '85,123', color: '#ef6f6f', bg: '#e6ecf5', border: '#9fb0c2', dy: 4, h: 13, w: 37 })} />
        </ComposedChart>
      </div>

      {/* volume + time axis */}
      <div style={layer(828)}>
        <ComposedChart width={1200} height={72} data={volumeRows} margin={noMargin}>
          <XAxis type="number" dataKey="x" domain={X_DOMAIN} allowDataOverflow ticks={dayTicks} interval={0}
            height={20} tickSize={4} tick={(p: any) => <DayTick {...p} />}
            axisLine={{ stroke: '#8c8c8c' }} tickLine={{ stroke: '#555' }} />
          <YAxis orientation="right" width={56} domain={[0, 171.7]} allowDataOverflow ticks={[50, 150]} interval={0}
            tickSize={4} tickMargin={3} tick={(p: any) => <PlainTick {...p} fmt={(v: number) => `${v} 000`} />}
            axisLine={{ stroke: '#8c8c8c' }} tickLine={{ stroke: '#555' }} />
          <Bar dataKey="v" barSize={4} isAnimationActive={false}>
            {volumeRows.map((r) => (
              <Cell key={r.x} fill={r.up ? '#2f5cf2' : '#e25e5e'} stroke={r.up ? '#1b2e9e' : '#a63a3a'} strokeWidth={0.6} />
            ))}
          </Bar>
          <ReferenceLine y={90.488} stroke="none" label={rightTag({ text: '90 488', color: '#4f4ff5', bg: '#e6ecf5', border: '#9fb0c2', dy: -2, h: 13, w: 37 })} />
        </ComposedChart>
      </div>

      {/* header */}
      <div style={{ position: 'absolute', left: 0, top: 0, width: 1200, height: 20, boxSizing: 'border-box', background: 'linear-gradient(#f3f7fc, #d7e4f2)', borderBottom: '1px solid #a9b8c8' }}>
        <svg width={18} height={18} style={{ position: 'absolute', left: 2, top: 1 }}>
          <line x1={5} x2={5} y1={7} y2={17} stroke="#333" />
          <rect x={3} y={10} width={4} height={5} fill="#777" stroke="#222" strokeWidth={0.8} />
          <line x1={13} x2={13} y1={1} y2={16} stroke="#333" />
          <rect x={10.5} y={4} width={5} height={10} fill="#a6e04a" stroke="#3b6b0f" strokeWidth={0.8} />
        </svg>
        <span style={{ position: 'absolute', left: 24, top: 3, fontSize: 10.6, fontWeight: 700, color: '#000', whiteSpace: 'nowrap' }}>
          Spot AUD/USD 4 heures 0,677455 (+1,59 %) 1 juin 2020 17:16:31
        </span>
        <span style={{ position: 'absolute', right: 5, top: 3, fontSize: 11, fontWeight: 700, color: '#000' }}>Trading.ProRealTime.com</span>
      </div>

      {/* legend */}
      <LegendBox left={1} width={38}>{priceIcon}<span>Prix</span></LegendBox>
      <LegendBox left={38} width={109}>
        <span style={{ display: 'inline-flex', width: 10, height: 11, flex: 'none' }}>
          <span style={{ flex: 1, background: '#000' }} /><span style={{ flex: 1, background: '#3a3aff' }} />
          <span style={{ flex: 1, background: '#f21c1c' }} /><span style={{ flex: 1, background: '#0000a8' }} />
        </span>
        <span style={{ fontSize: 10.6 }}>Ichimoku (9 26 52)</span>
      </LegendBox>
      <LegendBox left={146} width={72}>
        <span style={{ display: 'inline-block', width: 10, height: 11, background: '#33cc00', flex: 'none' }} /><span>Clôture (J)</span>
      </LegendBox>

      <div style={{ position: 'absolute', left: 3, top: 726, fontSize: 11, color: '#333' }}>© ProRealTime Trading</div>

      <div style={{ position: 'absolute', left: 1, top: 741, height: 16, boxSizing: 'border-box', padding: '0 4px 0 3px', background: '#f2f2f2', border: '1px solid #b0b0b0', display: 'flex', alignItems: 'center', gap: 3, fontSize: 11, whiteSpace: 'nowrap' }}>
        {priceIcon}<span>Stochastique (14 3 5)</span>
      </div>
      <div style={{ position: 'absolute', left: 1, top: 829, height: 16, boxSizing: 'border-box', padding: '0 4px 0 3px', background: '#f2f2f2', border: '1px solid #b0b0b0', display: 'flex', alignItems: 'center', gap: 3, fontSize: 11, whiteSpace: 'nowrap' }}>
        <span style={{ display: 'inline-flex', width: 10, height: 11, flex: 'none' }}>
          <span style={{ flex: 1, background: '#e25e5e' }} /><span style={{ flex: 1, background: '#2f5cf2' }} />
        </span>
        <span>Volume</span>
      </div>
    </div>
  );
}
